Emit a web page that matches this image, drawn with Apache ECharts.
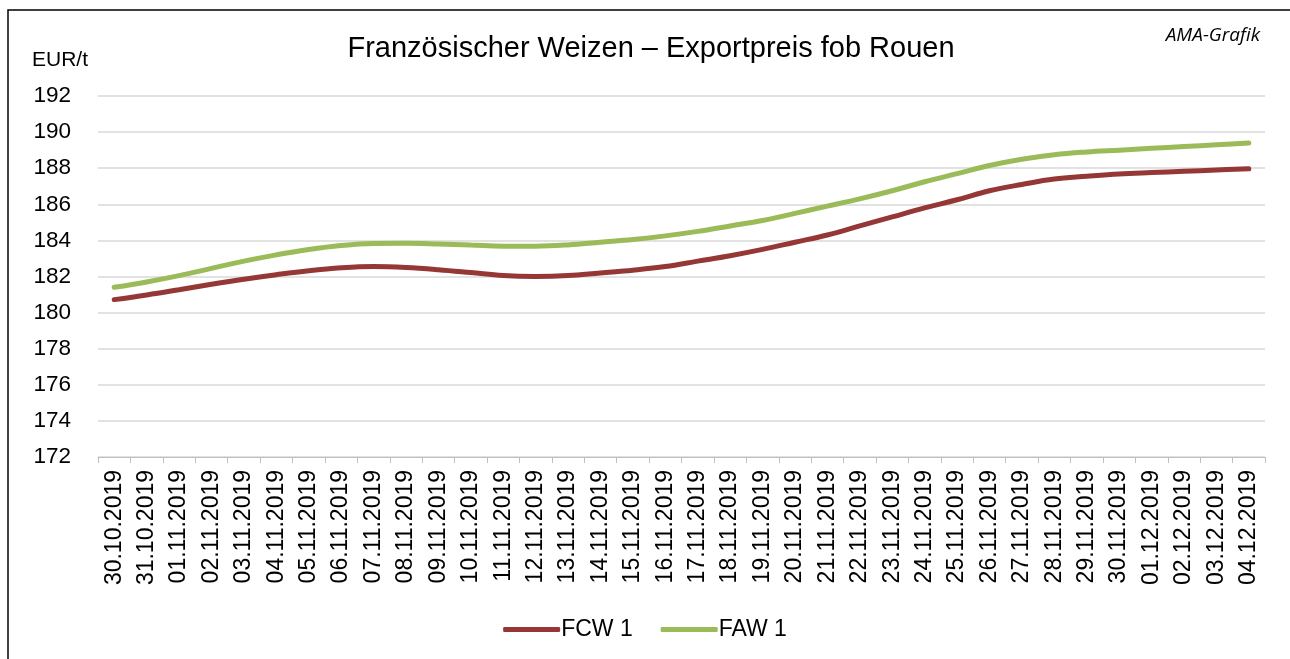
<!DOCTYPE html>
<html>
<head>
<meta charset="utf-8">
<script src="https://cdn.jsdelivr.net/npm/echarts@6/dist/echarts.min.js"></script>
<style>
html,body{margin:0;padding:0;background:#fff;}
#c{width:1290px;height:659px;}
</style>
</head>
<body>
<div id="c"></div>
<script>
const categories = ["30.10.2019","31.10.2019","01.11.2019","02.11.2019","03.11.2019","04.11.2019","05.11.2019","06.11.2019","07.11.2019","08.11.2019","09.11.2019","10.11.2019","11.11.2019","12.11.2019","13.11.2019","14.11.2019","15.11.2019","16.11.2019","17.11.2019","18.11.2019","19.11.2019","20.11.2019","21.11.2019","22.11.2019","23.11.2019","24.11.2019","25.11.2019","26.11.2019","27.11.2019","28.11.2019","29.11.2019","30.11.2019","01.12.2019","02.12.2019","03.12.2019","04.12.2019"];
const fcw1 = [180.72,180.98,181.27,181.57,181.85,182.1,182.32,182.48,182.55,182.5,182.38,182.22,182.05,182.0,182.05,182.2,182.35,182.55,182.85,183.15,183.5,183.9,184.3,184.8,185.3,185.8,186.25,186.75,187.1,187.4,187.55,187.68,187.76,187.83,187.9,187.97];
const faw1 = [181.4,181.7,182.05,182.45,182.85,183.2,183.5,183.72,183.83,183.84,183.8,183.74,183.68,183.68,183.75,183.9,184.05,184.25,184.5,184.8,185.1,185.5,185.9,186.3,186.75,187.25,187.7,188.15,188.5,188.75,188.9,189.0,189.1,189.2,189.3,189.4];
const seriesNames = ["FCW 1","FAW 1"];
const titleText = "Französischer Weizen – Exportpreis fob Rouen";
const unitText = "EUR/t";
const sourceText = "AMA-Grafik";

const chart = echarts.init(document.getElementById('c'));
const FONT = '"Liberation Sans", Arial, sans-serif';
chart.setOption({
  animation: false,
  textStyle: {fontFamily: FONT},
  graphic: [
    {type:'rect', shape:{x:8,y:10,width:1300,height:670}, style:{fill:null, stroke:'#000', lineWidth:1.5}, silent:true},
    {type:'text', x:651, y:49, style:{text:titleText, font:'29px ' + FONT, fill:'#000', textAlign:'center', textVerticalAlign:'middle'}},
    {type:'text', x:32, y:60, style:{text:unitText, font:'21px ' + FONT, fill:'#000', textAlign:'left', textVerticalAlign:'middle'}},
    {type:'text', x:1260, y:36, style:{text:sourceText, font:'italic 19px "Open Sans", sans-serif', fill:'#000', textAlign:'right', textVerticalAlign:'middle'}}
  ],
  grid: {left:98, right:25, top:96, bottom:202, containLabel:false},
  legend: {
    bottom: 13, left: 'center',
    itemWidth: 57, itemHeight: 5, itemGap: 28,
    icon: 'roundRect',
    textStyle: {fontSize:23, color:'#000', fontFamily: FONT, padding:[0,0,0,-4]},
    data: seriesNames
  },
  xAxis: {
    type: 'category',
    data: categories,
    boundaryGap: true,
    axisLine: {lineStyle:{color:'#bfbfbf', width:1}},
    axisTick: {show:true, interval:0, length:6, lineStyle:{color:'#bfbfbf'}},
    axisLabel: {interval:0, rotate:90, fontSize:23, color:'#000', margin:13, fontFamily: FONT}
  },
  yAxis: {
    type: 'value',
    min: 172, max: 192, interval: 2,
    axisLine: {show:false},
    axisTick: {show:false},
    axisLabel: {fontSize:22.5, color:'#000', margin:27, fontFamily: FONT},
    splitLine: {lineStyle:{color:'#d9d9d9', width:1.5}}
  },
  series: [
    {name: seriesNames[0], type:'line', data: fcw1, smooth: 0.4, showSymbol:false, symbol:'none',
     lineStyle:{color:'#953735', width:5, cap:'round'}, itemStyle:{color:'#953735'}},
    {name: seriesNames[1], type:'line', data: faw1, smooth: 0.4, showSymbol:false, symbol:'none',
     lineStyle:{color:'#9BBB59', width:5, cap:'round'}, itemStyle:{color:'#9BBB59'}}
  ]
});
</script>
</body>
</html>
